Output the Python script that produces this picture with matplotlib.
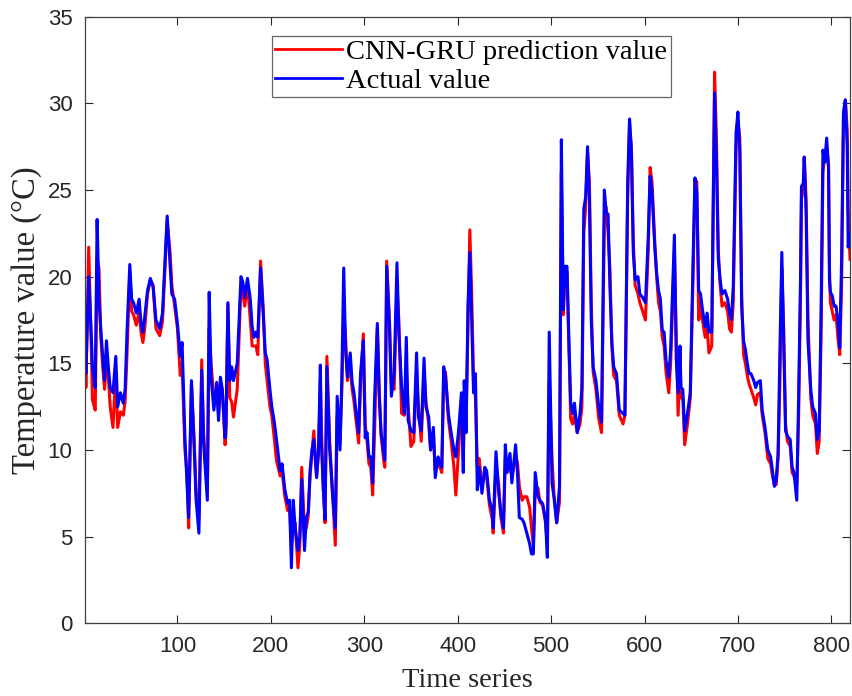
import matplotlib
matplotlib.use("Agg")
import matplotlib.pyplot as plt

# time index (at the turning points of the curves)
time_idx = [
    1, 2, 5, 8, 9, 12, 14, 16, 18, 20,
    22, 24, 26, 28, 31, 34, 36, 39, 42, 44,
    46, 49, 51, 53, 56, 59, 61, 63, 65, 68,
    71, 74, 77, 81, 84, 89, 92, 94, 97, 100,
    103, 105, 108, 110, 112, 115, 118, 120, 123, 126,
    128, 132, 134, 136, 139, 142, 144, 146, 148, 151,
    152, 154, 156, 158, 160, 164, 168, 170, 172, 175,
    178, 180, 182, 184, 186, 189, 192, 194, 196, 199,
    201, 204, 206, 210, 212, 215, 218, 220, 222, 224,
    226, 229, 231, 233, 236, 238, 240, 242, 244, 246,
    249, 251, 253, 254, 256, 258, 260, 263, 266, 269,
    271, 274, 276, 278, 280, 282, 285, 287, 289, 291,
    294, 296, 299, 301, 303, 305, 307, 309, 311, 314,
    316, 318, 321, 322, 324, 327, 329, 332, 335, 337,
    340, 343, 345, 347, 350, 353, 356, 358, 361, 364,
    366, 369, 371, 374, 376, 379, 381, 383, 385, 387,
    390, 393, 396, 398, 401, 404, 406, 407, 409, 411,
    413, 415, 417, 419, 421, 423, 426, 429, 431, 434,
    437, 438, 441, 444, 446, 449, 451, 453, 456, 458,
    462, 464, 466, 469, 471, 474, 477, 479, 481, 483,
    486, 488, 491, 494, 496, 498, 501, 503, 506, 509,
    511, 513, 515, 517, 519, 521, 523, 525, 528, 531,
    533, 535, 537, 539, 541, 543, 545, 548, 551, 554,
    557, 559, 561, 563, 565, 567, 570, 573, 577, 579,
    582, 584, 586, 588, 590, 593, 595, 598, 601, 604,
    606, 608, 611, 613, 615, 617, 619, 621, 623, 626,
    628, 632, 634, 636, 638, 639, 641, 643, 646, 649,
    652, 654, 656, 658, 660, 662, 665, 667, 669, 672,
    675, 677, 679, 681, 683, 686, 689, 691, 693, 695,
    698, 700, 702, 704, 706, 708, 710, 712, 714, 717,
    719, 721, 724, 726, 729, 732, 735, 737, 739, 741,
    743, 745, 747, 749, 751, 753, 756, 758, 760, 763,
    765, 767, 768, 770, 771, 773, 775, 778, 780, 783,
    785, 787, 789, 791, 793, 795, 797, 798, 799, 801,
    803, 805, 807, 809, 811, 813, 815, 817, 818, 820,
]

actual = [
    16.3, 14.4, 20.0, 16.3, 14.8, 13.6, 23.3, 18.7, 16.9, 15.4,
    14.0, 16.3, 14.8, 13.6, 13.3, 15.4, 12.5, 13.3, 12.7, 13.5,
    16.8, 20.7, 18.7, 18.5, 17.9, 18.7, 17.3, 16.8, 17.7, 19.2,
    19.9, 19.4, 17.5, 17.0, 17.9, 23.5, 20.8, 19.0, 18.7, 17.3,
    15.4, 16.2, 10.7, 8.4, 6.1, 14.0, 10.0, 7.1, 5.2, 14.6,
    10.4, 7.1, 19.1, 14.2, 12.3, 13.9, 11.7, 14.2, 13.5, 10.7,
    11.5, 18.5, 14.0, 14.8, 14.0, 15.0, 20.0, 19.7, 18.8, 19.9,
    18.7, 17.1, 16.5, 16.8, 16.5, 20.5, 17.7, 15.6, 15.2, 13.5,
    12.5, 11.5, 10.6, 8.8, 9.2, 7.7, 6.9, 7.1, 3.2, 7.1,
    5.5, 4.2, 5.0, 8.3, 4.2, 6.1, 6.4, 8.8, 10.0, 10.6,
    8.4, 10.0, 14.9, 10.6, 7.9, 6.0, 14.8, 10.0, 7.5, 5.5,
    13.1, 10.0, 14.2, 20.5, 15.8, 14.2, 15.6, 13.9, 13.3, 12.3,
    11.0, 14.4, 16.3, 10.7, 11.0, 9.6, 9.6, 8.1, 12.9, 17.3,
    13.1, 11.0, 9.8, 9.4, 20.6, 17.1, 13.1, 14.4, 20.8, 16.8,
    13.6, 12.1, 16.5, 11.7, 11.1, 11.0, 15.6, 11.9, 11.1, 15.3,
    12.5, 11.9, 10.0, 11.3, 8.4, 9.6, 9.2, 9.0, 14.8, 14.2,
    12.1, 11.0, 10.0, 9.6, 11.1, 13.3, 8.7, 14.0, 11.0, 18.3,
    21.4, 17.5, 13.3, 14.4, 7.7, 9.0, 7.5, 9.0, 8.8, 7.1,
    6.5, 5.5, 9.9, 7.5, 6.5, 5.5, 10.3, 8.7, 9.8, 8.1,
    10.3, 8.7, 6.1, 6.0, 5.8, 5.2, 4.6, 4.0, 4.0, 8.7,
    7.3, 7.1, 6.9, 6.0, 3.8, 16.8, 8.1, 7.3, 5.8, 7.9,
    27.9, 18.1, 20.6, 20.6, 16.5, 12.7, 12.1, 12.7, 11.0, 12.1,
    13.6, 23.9, 24.6, 27.5, 24.6, 17.5, 14.8, 14.0, 12.5, 11.6,
    25.0, 23.7, 23.6, 19.4, 16.3, 14.8, 14.4, 12.3, 12.1, 12.0,
    25.5, 29.1, 27.1, 21.4, 19.8, 20.0, 19.0, 18.8, 18.5, 22.3,
    25.8, 25.0, 21.7, 20.2, 19.2, 18.7, 16.9, 16.8, 15.2, 14.2,
    15.8, 22.4, 15.2, 13.3, 16.0, 13.6, 13.5, 11.1, 12.1, 13.3,
    21.0, 25.7, 24.8, 19.2, 19.0, 18.1, 17.1, 17.9, 16.8, 16.8,
    30.6, 26.7, 21.0, 19.8, 19.0, 19.2, 18.7, 17.9, 17.5, 19.4,
    28.3, 29.5, 27.3, 18.3, 16.3, 15.8, 15.0, 14.4, 14.4, 14.0,
    13.6, 13.9, 14.0, 12.3, 11.3, 10.0, 9.6, 8.8, 7.9, 8.3,
    9.8, 15.9, 21.4, 16.3, 11.1, 10.8, 10.6, 9.0, 8.7, 7.1,
    13.1, 19.8, 25.2, 25.4, 26.9, 23.7, 16.3, 13.5, 12.5, 12.1,
    10.6, 11.1, 17.9, 27.3, 26.6, 28.0, 26.2, 19.8, 19.1, 18.9,
    18.3, 18.3, 17.5, 15.9, 21.0, 29.5, 30.2, 27.5, 21.7, 22.5,
]

prediction = [
    16.0, 13.6, 21.7, 15.5, 12.9, 12.3, 21.0, 20.5, 16.5, 14.8,
    13.5, 15.5, 14.2, 12.5, 11.3, 14.5, 11.3, 12.2, 12.0, 12.8,
    15.5, 20.3, 18.0, 17.8, 17.2, 18.0, 16.8, 16.2, 17.0, 19.0,
    19.8, 19.5, 17.0, 16.6, 17.4, 23.2, 21.5, 19.5, 18.3, 17.0,
    14.3, 15.0, 10.0, 8.8, 5.5, 13.8, 10.5, 7.5, 6.0, 15.2,
    11.0, 7.5, 17.0, 15.0, 13.0, 13.5, 12.0, 13.8, 13.5, 10.3,
    11.0, 18.4, 13.0, 12.8, 11.9, 13.5, 19.5, 19.0, 18.3, 19.5,
    17.5, 16.0, 16.0, 16.0, 15.5, 20.9, 18.0, 15.0, 14.0, 12.5,
    12.0, 10.5, 9.4, 8.5, 8.8, 7.3, 6.5, 6.8, 4.5, 5.5,
    5.8, 3.2, 4.5, 9.0, 5.5, 5.5, 6.2, 8.5, 9.8, 11.1,
    8.5, 9.8, 14.0, 11.5, 8.0, 5.8, 15.4, 10.5, 7.5, 4.5,
    12.0, 10.3, 13.5, 18.0, 16.5, 14.0, 15.0, 13.5, 12.8, 11.8,
    10.4, 13.8, 16.7, 11.5, 10.5, 9.2, 9.0, 7.4, 11.0, 17.0,
    13.5, 10.8, 9.3, 9.0, 20.9, 17.5, 13.8, 13.5, 19.5, 17.5,
    12.1, 12.0, 14.5, 12.5, 10.2, 10.5, 14.5, 12.5, 10.5, 14.5,
    12.8, 11.5, 10.0, 11.0, 8.8, 9.2, 9.0, 8.7, 14.2, 14.5,
    11.8, 10.5, 9.0, 7.4, 10.0, 12.8, 9.5, 12.0, 11.8, 17.0,
    22.7, 19.0, 14.0, 13.0, 9.0, 9.5, 8.0, 8.5, 8.5, 6.8,
    6.0, 5.2, 9.0, 8.0, 6.2, 5.2, 9.5, 9.0, 9.0, 8.5,
    9.5, 9.3, 7.9, 7.1, 7.3, 7.3, 6.7, 5.5, 4.5, 7.5,
    7.8, 7.0, 6.8, 5.8, 4.5, 14.0, 9.5, 7.5, 5.8, 7.0,
    26.0, 17.8, 20.0, 20.3, 16.0, 11.8, 11.5, 12.0, 11.0, 11.5,
    12.5, 22.5, 24.0, 27.2, 25.5, 18.5, 14.5, 13.5, 11.8, 11.0,
    23.0, 24.0, 22.5, 20.5, 16.0, 14.3, 14.0, 12.0, 11.5, 12.0,
    24.5, 28.8, 27.5, 22.0, 19.5, 19.0, 18.5, 18.0, 17.5, 21.5,
    26.3, 25.5, 22.0, 20.0, 18.5, 18.0, 16.5, 16.0, 14.5, 13.3,
    15.0, 21.5, 16.5, 12.0, 15.5, 13.0, 13.0, 10.3, 11.5, 13.0,
    20.0, 25.5, 25.5, 17.5, 18.5, 17.5, 16.5, 17.0, 15.6, 16.0,
    31.8, 28.0, 21.5, 19.5, 18.3, 18.5, 18.0, 17.0, 16.8, 18.5,
    27.5, 29.0, 28.0, 19.0, 15.5, 15.0, 14.3, 13.8, 13.5, 13.0,
    12.6, 13.2, 13.3, 12.0, 11.0, 9.5, 9.2, 8.5, 8.0, 8.0,
    9.5, 14.0, 20.5, 17.0, 11.5, 10.5, 10.2, 8.7, 8.5, 8.0,
    12.0, 19.0, 24.5, 25.0, 26.9, 24.5, 17.5, 13.0, 12.0, 11.5,
    9.8, 10.5, 16.5, 26.0, 27.0, 27.5, 26.5, 20.5, 18.5, 18.0,
    17.5, 17.8, 16.5, 15.5, 19.5, 29.0, 30.2, 28.5, 24.0, 21.0,
]

serif = ["Liberation Serif", "DejaVu Serif"]
sans = ["Liberation Sans", "DejaVu Sans"]

fig = plt.figure(figsize=(8.53, 6.96), dpi=100)
ax = fig.add_axes([0.0996, 0.1045, 0.8969, 0.8715])

ax.plot(time_idx, prediction, color="#ff0000", lw=2.2, label="CNN-GRU prediction value")
ax.plot(time_idx, actual, color="#0000ff", lw=2.2, label="Actual value")

ax.set_xlim(1, 820)
ax.set_ylim(0, 35)
ax.set_xticks(range(100, 801, 100))
ax.set_yticks(range(0, 36, 5))

ax.tick_params(direction="in", top=True, right=True, length=6, width=0.8,
               colors="#262626", labelsize=16, pad=9)
for lab in ax.get_xticklabels() + ax.get_yticklabels():
    lab.set_family(sans)
for sp in ax.spines.values():
    sp.set_color("#404040")
    sp.set_linewidth(0.9)

ax.set_xlabel("Time series", family=serif, fontsize=20.5, color="#262626", labelpad=8)
ax.set_ylabel("Temperature value (\u00b0C)", family=serif, fontsize=23.5, color="#262626", labelpad=4)

leg = ax.legend(loc="upper center", bbox_to_anchor=(0.505, 0.968), prop={"family": serif, "size": 20.5},
                frameon=True, fancybox=False, edgecolor="#404040", handlelength=2.35,
                handletextpad=0.15, labelspacing=0.08, borderpad=0.12, borderaxespad=0)
leg.get_frame().set_linewidth(0.9)
for line in leg.get_lines():
    line.set_linewidth(2.0)

fig.savefig("out.png", dpi=100)
